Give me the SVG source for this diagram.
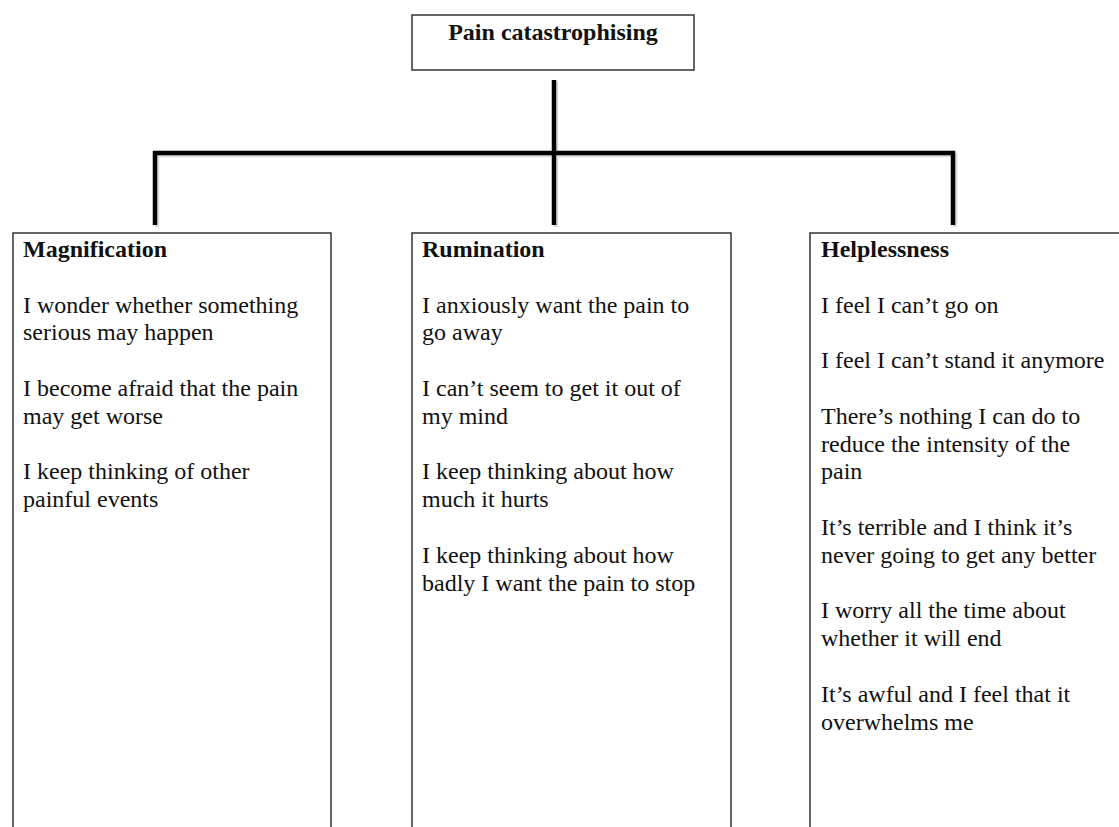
<svg xmlns="http://www.w3.org/2000/svg" width="1119" height="827" viewBox="0 0 1119 827">
<style>
.box{fill:#fff;stroke:#333;stroke-width:1.5}
.t{font-family:"Liberation Serif","Times New Roman",serif;font-size:24px;fill:#111}
.b{font-weight:bold}
.conn{fill:none;stroke:#000;stroke-width:4.5;stroke-linecap:butt;stroke-linejoin:miter}
.shadow{fill:none;stroke:#999;stroke-opacity:0.35;stroke-width:4.5}
</style>
<rect width="1119" height="827" fill="#fff"/>
<g id="connectors">
<path class="shadow" d="M556 82 V227 M157 227 V155 H955 V227"/>
<path class="conn" d="M554 80 V225 M155 225 V153 H953 V225"/>
</g>
<g id="root">
<rect class="box" x="412" y="15" width="282" height="55"/>
<text class="t b" x="553" y="40" text-anchor="middle">Pain catastrophising</text>
</g>
<g id="magnification">
<rect class="box" x="13" y="233" width="318" height="610"/>
<text class="t b" x="23" y="257">Magnification</text>
<text class="t" x="23" y="312.6">I wonder whether something</text>
<text class="t" x="23" y="340.4">serious may happen</text>
<text class="t" x="23" y="396">I become afraid that the pain</text>
<text class="t" x="23" y="423.8">may get worse</text>
<text class="t" x="23" y="479.4">I keep thinking of other</text>
<text class="t" x="23" y="507.2">painful events</text>
</g>
<g id="rumination">
<rect class="box" x="412" y="233" width="319" height="610"/>
<text class="t b" x="422" y="257">Rumination</text>
<text class="t" x="422" y="312.6">I anxiously want the pain to</text>
<text class="t" x="422" y="340.4">go away</text>
<text class="t" x="422" y="396">I can’t seem to get it out of</text>
<text class="t" x="422" y="423.8">my mind</text>
<text class="t" x="422" y="479.4">I keep thinking about how</text>
<text class="t" x="422" y="507.2">much it hurts</text>
<text class="t" x="422" y="562.8">I keep thinking about how</text>
<text class="t" x="422" y="590.6">badly I want the pain to stop</text>
</g>
<g id="helplessness">
<rect class="box" x="810" y="233" width="319" height="610"/>
<text class="t b" x="821" y="257">Helplessness</text>
<text class="t" x="821" y="312.6">I feel I can’t go on</text>
<text class="t" x="821" y="368.2">I feel I can’t stand it anymore</text>
<text class="t" x="821" y="423.8">There’s nothing I can do to</text>
<text class="t" x="821" y="451.6">reduce the intensity of the</text>
<text class="t" x="821" y="479.4">pain</text>
<text class="t" x="821" y="535">It’s terrible and I think it’s</text>
<text class="t" x="821" y="562.8">never going to get any better</text>
<text class="t" x="821" y="618.4">I worry all the time about</text>
<text class="t" x="821" y="646.2">whether it will end</text>
<text class="t" x="821" y="701.8">It’s awful and I feel that it</text>
<text class="t" x="821" y="729.6">overwhelms me</text>
</g>
</svg>
